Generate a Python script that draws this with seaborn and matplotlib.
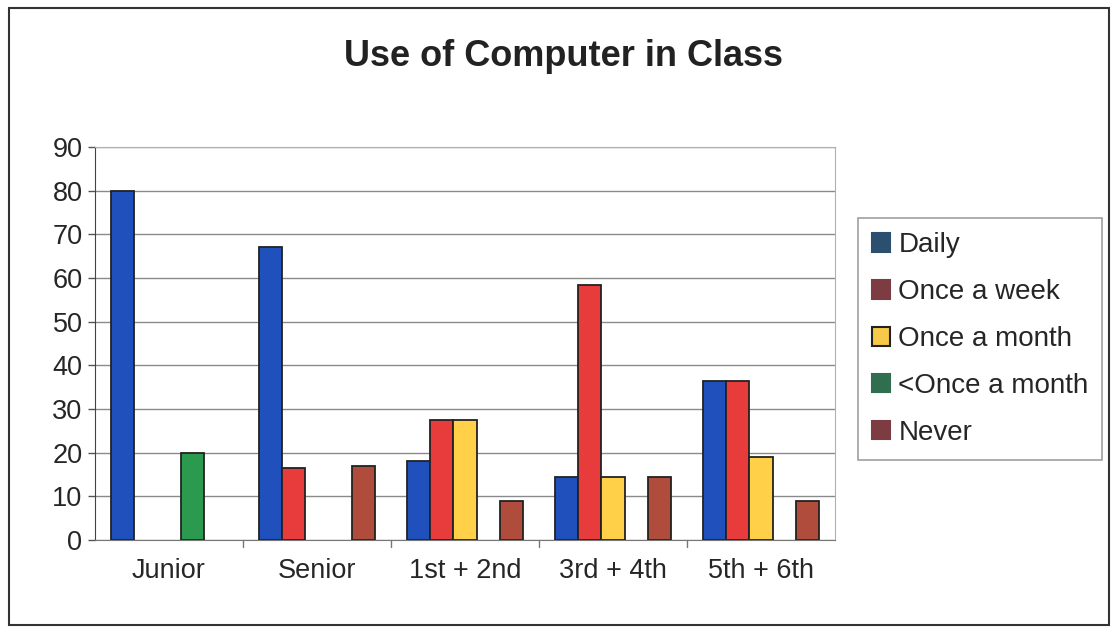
import pandas as pd
import seaborn as sns
import matplotlib.pyplot as plt
from matplotlib.patches import Patch, Rectangle

# Data
groups = ["Junior", "Senior", "1st + 2nd", "3rd + 4th", "5th + 6th"]
series = ["Daily", "Once a week", "Once a month", "<Once a month", "Never"]
daily = [80, 67, 18, 14.5, 36.5]
once_week = [0, 16.5, 27.5, 58.5, 36.5]
once_month = [0, 0, 27.5, 14.5, 19]
less_month = [20, 0, 0, 0, 0]
never = [0, 17, 9, 14.5, 9]

bar_colors = {"Daily": "#1f50bb", "Once a week": "#e83c3c", "Once a month": "#ffd048",
              "<Once a month": "#2c9a4e", "Never": "#b04c3c"}
legend_colors = ["#2b4f6e", "#7d3b42", "#f7c948", "#2f6e4e", "#7d3b42"]

rows = []
for name, vals in zip(series, [daily, once_week, once_month, less_month, never]):
    for g, v in zip(groups, vals):
        if v > 0:
            rows.append({"group": g, "series": name, "value": v})
df = pd.DataFrame(rows)

sns.set_style("white")
plt.rcParams["font.family"] = ["Liberation Sans", "DejaVu Sans"]

fig = plt.figure(figsize=(11.12, 6.28), dpi=100)
ax = fig.add_axes([95 / 1112, 88 / 628, 740 / 1112, 393 / 628])

sns.barplot(data=df, x="group", y="value", hue="series", order=groups, hue_order=series,
            palette=bar_colors, saturation=1, width=0.78, edgecolor="#222222", linewidth=1.3,
            errorbar=None, ax=ax, legend=False)

ax.set_ylim(0, 90)
ax.set_xlim(-0.5, 4.5)
ax.set_yticks(range(0, 91, 10))
ax.yaxis.grid(True, color="#8a8a8a", linewidth=1.0)
ax.set_axisbelow(True)
ax.set_xlabel("")
ax.set_ylabel("")
ax.tick_params(axis="y", labelsize=19.5, length=5, width=1, color="#555555", pad=4, left=True)
ax.tick_params(axis="x", labelsize=19.5, length=0, pad=13)
# small tick marks between categories
for b in [0.5, 1.5, 2.5, 3.5]:
    ax.plot([b, b], [0, -1.6], color="#777777", linewidth=1, clip_on=False)
for side in ["top", "right"]:
    ax.spines[side].set_color("#b0b0b0")
ax.spines["left"].set_color("#444444")
ax.spines["bottom"].set_color("#777777")

fig.text(563 / 1112, 1 - 56 / 628, "Use of Computer in Class", ha="center", va="center",
         fontsize=26, fontweight="bold", color="#222222")

handles = [Patch(facecolor=c, edgecolor="#222222" if n == "Once a month" else c, linewidth=1.5)
           for n, c in zip(series, legend_colors)]
leg = fig.legend(handles, series, loc="center left", bbox_to_anchor=(858 / 1112, 1 - 339 / 628),
                 frameon=True, fancybox=False, fontsize=20, handlelength=0.65, handleheight=0.65,
                 handletextpad=0.3, labelspacing=0.75, borderpad=0.5, borderaxespad=0)
leg.get_frame().set_edgecolor("#888888")
leg.get_frame().set_linewidth(1.2)

fig.patches.append(Rectangle((9 / 1112, 0.005), 1100 / 1112, 1 - 8 / 628 - 0.005,
                             transform=fig.transFigure, fill=False, edgecolor="#333333",
                             linewidth=1.5))

fig.savefig("out.png", dpi=100)
